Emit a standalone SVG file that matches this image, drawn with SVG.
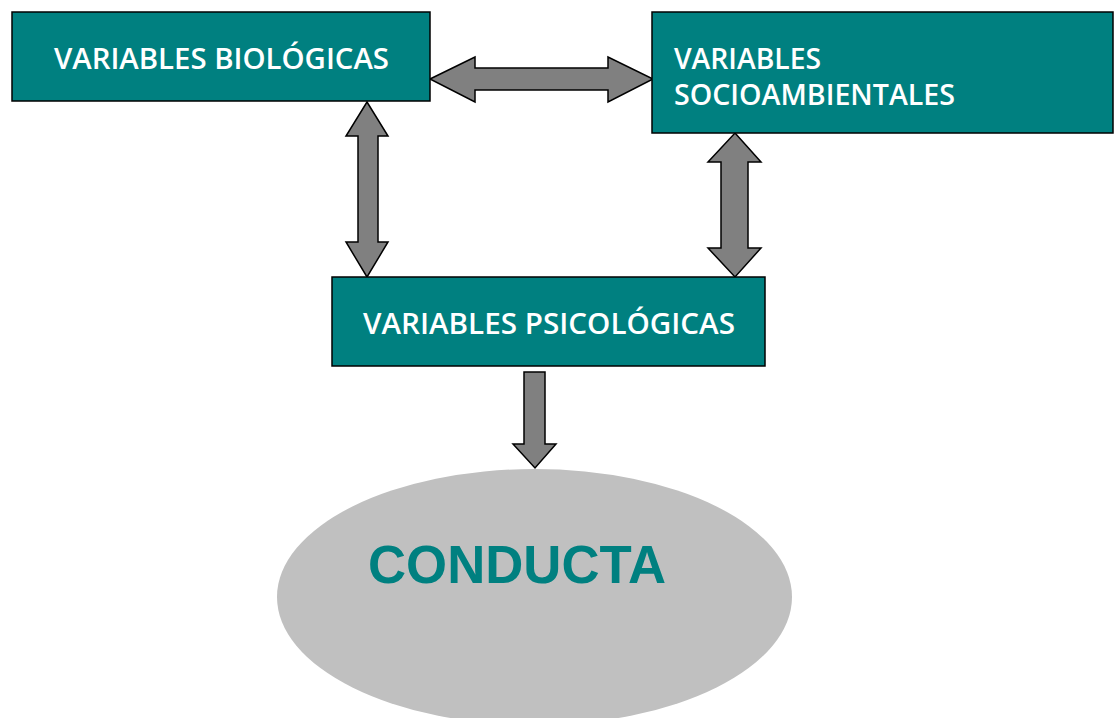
<svg xmlns="http://www.w3.org/2000/svg" width="1117" height="718" viewBox="0 0 1117 718">
<style>
.box{fill:#008080;stroke:#000;stroke-width:1.5}
.lbl{font-family:"Open Sans","Liberation Sans",sans-serif;font-size:28px;font-weight:600;fill:#fff}
.arr{fill:#808080;stroke:#000;stroke-width:1.5;stroke-linejoin:miter}
</style>
<rect width="1117" height="718" fill="#fff"/>
<g id="conducta">
<ellipse cx="534.5" cy="597" rx="257.5" ry="128" fill="#C0C0C0"/>
<text x="368" y="583" textLength="298" lengthAdjust="spacingAndGlyphs" font-family="'Liberation Sans',Arial,sans-serif" font-size="53" font-weight="bold" fill="#008080">CONDUCTA</text>
</g>
<g id="connectors">
<polygon class="arr" points="430,79 475,57 475,68 608,68 608,57 653,79 608,102 608,90 475,90 475,102"/>
<polygon class="arr" points="367,102 388,136 378,136 378,242 388,242 367,277 346,242 358,242 358,136 346,136"/>
<polygon class="arr" points="735,133 761,162 748,162 748,248 761,248 735,277 708,248 721,248 721,162 708,162"/>
<polygon class="arr" points="524,372 545,372 545,444 556,444 535,468 513,444 524,444"/>
</g>
<g id="bio">
<rect class="box" x="12" y="12" width="418" height="89"/>
<text class="lbl" x="54" y="69" textLength="335" lengthAdjust="spacingAndGlyphs">VARIABLES BIOLÓGICAS</text>
</g>
<g id="socio">
<rect class="box" x="652" y="12" width="461" height="121"/>
<text class="lbl" x="674" y="69" textLength="147" lengthAdjust="spacingAndGlyphs">VARIABLES</text>
<text class="lbl" x="674" y="105" textLength="281" lengthAdjust="spacingAndGlyphs">SOCIOAMBIENTALES</text>
</g>
<g id="psico">
<rect class="box" x="332" y="277" width="433" height="89"/>
<text class="lbl" x="363" y="334" textLength="372" lengthAdjust="spacingAndGlyphs">VARIABLES PSICOLÓGICAS</text>
</g>
</svg>
